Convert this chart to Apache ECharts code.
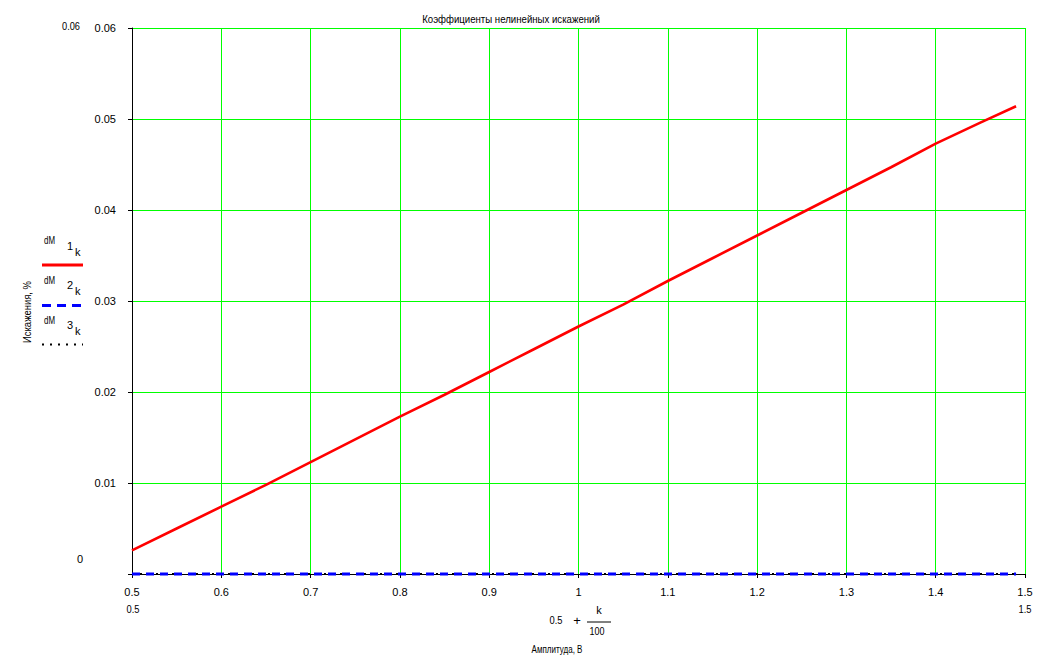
<!DOCTYPE html>
<html>
<head>
<meta charset="utf-8">
<script src="https://cdn.jsdelivr.net/npm/echarts@6/dist/echarts.min.js"></script>
<style>
html,body{margin:0;padding:0;background:#fff;}
#chart{width:1061px;height:657px;}
</style>
</head>
<body>
<div id="chart"></div>
<script>
// Data (x = 0.5 + k/100)
const xValues = [0.50, 0.55, 0.60, 0.65, 0.70, 0.75, 0.80, 0.85, 0.90, 0.95, 1.00, 1.05, 1.10, 1.15, 1.20, 1.25, 1.30, 1.35, 1.40, 1.45, 1.49];
const dM1 = [0.0026, 0.0050, 0.0074, 0.0098, 0.0123, 0.0148, 0.0173, 0.0197, 0.0222, 0.0247, 0.0272, 0.0296, 0.0322, 0.0347, 0.0372, 0.0397, 0.0422, 0.0447, 0.0473, 0.0496, 0.0514];
const dM2 = [0, 0, 0, 0, 0, 0, 0, 0, 0, 0, 0, 0, 0, 0, 0, 0, 0, 0, 0, 0, 0];
const dM3 = [0, 0, 0, 0, 0, 0, 0, 0, 0, 0, 0, 0, 0, 0, 0, 0, 0, 0, 0, 0, 0];
const titleText = 'Коэффициенты нелинейных искажений';
const xName = 'Амплитуда, В';
const yName = 'Искажения, %';
const xMin = 0.5, xMax = 1.5, xStep = 0.1;
const yMin = 0, yMax = 0.06, yStep = 0.01;

const FONT = "'Liberation Sans', Arial, sans-serif";
const FS = 11;
const pair = (xs, ys) => xs.map((x, i) => [x, ys[i]]);

const ctx = document.createElement('canvas').getContext('2d');
function measure(text, size) {
  ctx.font = size + 'px ' + FONT;
  return ctx.measureText(text).width;
}

const chart = echarts.init(document.getElementById('chart'), null, { renderer: 'svg' });
function txt(text, x, y, align, opts) {
  opts = opts || {};
  const size = opts.size || FS;
  const el = {
    type: 'text', x: x, y: y,
    style: { text: text, fill: '#000', font: size + 'px ' + FONT, align: align || 'center', verticalAlign: 'middle' }
  };
  if (opts.width) { el.scaleX = opts.width / measure(text, size); el.originX = 0; el.originY = 0; }
  if (opts.rotation) el.rotation = opts.rotation;
  return el;
}

chart.setOption({
  animation: false,
  backgroundColor: '#fff',
  grid: { left: 132, right: 36, top: 28, bottom: 83 },
  xAxis: {
    type: 'value', min: xMin, max: xMax, interval: xStep,
    axisLine: { lineStyle: { color: '#000', width: 1 } },
    axisTick: { length: 4, lineStyle: { color: '#000' } },
    axisLabel: { color: '#000', fontFamily: FONT, fontSize: FS, margin: 12,
      formatter: v => String(parseFloat(v.toFixed(2))) },
    splitLine: { show: true, lineStyle: { color: ['#00ff00'], width: 1, opacity: 1 } }
  },
  yAxis: {
    type: 'value', min: yMin, max: yMax, interval: yStep,
    axisLine: { show: true, lineStyle: { color: '#000', width: 1 } },
    axisTick: { show: true, length: 4, lineStyle: { color: '#000' } },
    axisLabel: { color: '#000', fontFamily: FONT, fontSize: FS, margin: 16,
      formatter: v => v === 0 ? '' : String(parseFloat(v.toFixed(3))) },
    splitLine: { show: true, lineStyle: { color: ['#00ff00'], width: 1, opacity: 1 } }
  },
  series: [
    { name: 'dM1', type: 'line', data: pair(xValues, dM1), showSymbol: false, clip: false,
      lineStyle: { color: '#ff0000', width: 2.6 }, z: 5 },
    { name: 'dM3', type: 'line', data: pair(xValues, dM3), showSymbol: false, clip: false,
      lineStyle: { color: '#000', width: 2, type: [2, 6] }, z: 3 },
    { name: 'dM2', type: 'line', data: pair(xValues, dM2), showSymbol: false, clip: false,
      lineStyle: { color: '#0000ff', width: 3, type: [8, 6] }, z: 4 }
  ],
  graphic: [
    txt(titleText, 511, 19, 'center', { width: 178 }),
    txt('0.06', 80, 26, 'right', { width: 18 }),
    txt('0', 83, 559, 'right'),
    txt('0.5', 133, 609, 'center', { width: 13 }),
    txt('1.5', 1025, 609, 'center', { width: 13 }),
    txt('0.5', 556, 620, 'center', { width: 13 }),
    txt('+', 577, 620, 'center', { size: 13 }),
    txt('k', 599, 610),
    { type: 'line', shape: { x1: 587, y1: 622, x2: 611, y2: 622 }, style: { stroke: '#000', lineWidth: 1 } },
    txt('100', 597, 631, 'center', { width: 15 }),
    txt(xName, 557, 649, 'center', { width: 51 }),
    txt(yName, 27, 312, 'center', { width: 62, rotation: Math.PI / 2 }),
    // legend
    txt('dM', 44, 240, 'left', { width: 11 }),
    txt('1', 67, 246, 'left'),
    txt('k', 75, 252, 'left'),
    { type: 'line', shape: { x1: 42, y1: 265, x2: 83, y2: 265 }, style: { stroke: '#ff0000', lineWidth: 3 } },
    txt('dM', 44, 280, 'left', { width: 11 }),
    txt('2', 67, 285, 'left'),
    txt('k', 75, 291, 'left'),
    { type: 'line', shape: { x1: 42, y1: 305.5, x2: 83, y2: 305.5 }, style: { stroke: '#0000ff', lineWidth: 3, lineDash: [9, 6] } },
    txt('dM', 44, 320, 'left', { width: 11 }),
    txt('3', 67, 325, 'left'),
    txt('k', 75, 331, 'left'),
    { type: 'line', shape: { x1: 42, y1: 344.5, x2: 83, y2: 344.5 }, style: { stroke: '#000', lineWidth: 2, lineDash: [2, 6] } }
  ]
});
</script>
</body>
</html>
